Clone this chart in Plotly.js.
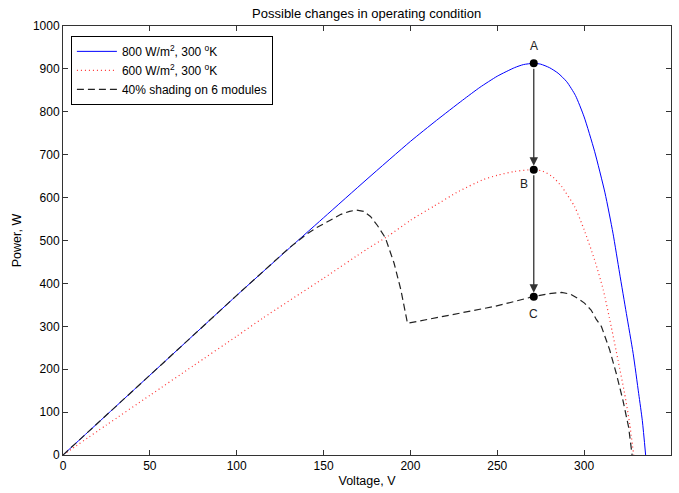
<!DOCTYPE html>
<html>
<head>
<meta charset="utf-8">
<script src="https://cdn.plot.ly/plotly-3.0.1.min.js"></script>
<style>html,body{margin:0;padding:0;background:#fff}#chart{width:679px;height:493px}</style>
</head>
<body>
<div id="chart"></div>
<script>
// Series 1: 800 W/m2, 300 K
const blueV = [0, 25, 50, 75, 100, 125, 150, 175, 200, 215, 230, 240, 250, 260, 265, 271, 275, 280, 285, 290, 295, 300, 306, 312, 316.6, 320.4, 324.3, 328.2, 331.4, 333.5, 335.4];
const blueP = [0, 93, 186, 279, 372, 463, 553, 643, 731, 780, 827, 857, 883, 903, 910, 913, 911, 903, 890, 870, 838, 788, 708, 611, 517, 424, 330, 237, 143, 80, 0];
// Series 2: 600 W/m2, 300 K
const redV = [0, 25, 50, 75, 100, 115, 150, 175, 187, 200, 213.5, 228, 242, 250, 260, 270, 276, 282, 287, 294.5, 300, 306, 311, 315.6, 319.5, 323.3, 326.2, 328.5];
const redP = [0, 70, 139, 208, 277, 319, 412, 480, 510, 547, 580, 615, 642, 652, 661, 665, 662, 648, 626, 579, 525, 455, 385, 299, 221, 143, 73, 0];
// Series 3: 40% shading on 6 modules
const shadeV = [0, 50, 100, 130, 140, 146, 154, 160, 165, 169, 173, 177, 181, 185.6, 190.6, 194.5, 198.3, 213.7, 230, 248, 260, 270.4, 280, 287, 292, 296.4, 300.2, 304, 307, 310, 314.7, 318.5, 322.3, 325.6, 327.6];
const shadeP = [0, 187, 372, 482, 514, 530, 548, 561, 568, 571, 568, 556, 535, 506, 447, 385, 307, 319, 333, 346, 358, 369, 376, 379, 375, 365, 354, 338, 316, 299, 245, 190, 128, 65, 0];
// Operating points
const pointLabels = ['A', 'B', 'C'];
const pointV = [271, 271, 271];
const pointP = [913, 665, 369];
const seriesNames = ['800 W/m<sup>2</sup>, 300 <sup>o</sup>K', '600 W/m<sup>2</sup>, 300 <sup>o</sup>K', '40% shading on 6 modules'];
const xTicks = [0, 50, 100, 150, 200, 250, 300, 350];
const yTicks = [0, 100, 200, 300, 400, 500, 600, 700, 800, 900, 1000];

const fam = 'Arial, "Liberation Sans", sans-serif';
const tickFont = {family: fam, size: 12, color: '#000'};
const labelFont = {family: fam, size: 12.5, color: '#000'};

const traces = [
  {x: blueV, y: blueP, name: seriesNames[0], mode: 'lines', line: {color: '#0000ff', width: 1, shape: 'spline', smoothing: 0.6}},
  {x: redV, y: redP, name: seriesNames[1], mode: 'lines', line: {color: '#ff3030', width: 1.2, dash: '1px,3px', shape: 'spline', smoothing: 0.6}},
  {x: shadeV, y: shadeP, name: seriesNames[2], mode: 'lines', line: {color: '#222', width: 1.2, dash: '7px,4px'}},
  {x: pointV, y: pointP, mode: 'markers', showlegend: false, marker: {color: '#000', size: 8}}
];

const annotations = [];
// arrows A->B and B->C
for (let i = 0; i < 2; i++) {
  annotations.push({
    x: pointV[i + 1], y: pointP[i + 1], ax: pointV[i], ay: pointP[i],
    xref: 'x', yref: 'y', axref: 'x', ayref: 'y', text: '',
    showarrow: true, arrowhead: 2, arrowsize: 1.3, arrowwidth: 1.3,
    arrowcolor: '#333', standoff: 4, startstandoff: 4
  });
}
const labelShift = [[0, 17], [-10, -14], [0, -17]];
pointLabels.forEach((t, i) => {
  annotations.push({x: pointV[i], y: pointP[i], xref: 'x', yref: 'y', text: t, showarrow: false,
    xshift: labelShift[i][0], yshift: labelShift[i][1], font: {family: fam, size: 12, color: '#222'}});
});

const axisCommon = {
  showgrid: false, zeroline: false, showline: true, linecolor: '#333', linewidth: 1,
  mirror: 'ticks', ticks: 'inside', ticklen: 5, tickcolor: '#333', tickfont: tickFont
};

const layout = {
  width: 679, height: 493,
  margin: {l: 63, r: 8, t: 26, b: 38},
  paper_bgcolor: '#fff', plot_bgcolor: '#fff',
  font: tickFont,
  title: {text: 'Possible changes in operating condition', font: {family: fam, size: 13, color: '#000'}, x: 0.54, xanchor: 'center', y: 0.973, yanchor: 'middle'},
  xaxis: Object.assign({}, axisCommon, {range: [0, 350], tickvals: xTicks, title: {text: 'Voltage, V', font: labelFont, standoff: 3}}),
  yaxis: Object.assign({}, axisCommon, {range: [0, 1000], tickvals: yTicks, title: {text: 'Power, W', font: labelFont, standoff: 8}}),
  legend: {x: 0.013, y: 0.977, xanchor: 'left', yanchor: 'top', bordercolor: '#000', borderwidth: 1, bgcolor: '#fff',
    font: {family: fam, size: 12, color: '#000'}, tracegroupgap: 0, itemwidth: 40},
  annotations: annotations,
  showlegend: true
};

Plotly.newPlot('chart', traces, layout, {displayModeBar: false, staticPlot: true});
</script>
</body>
</html>
